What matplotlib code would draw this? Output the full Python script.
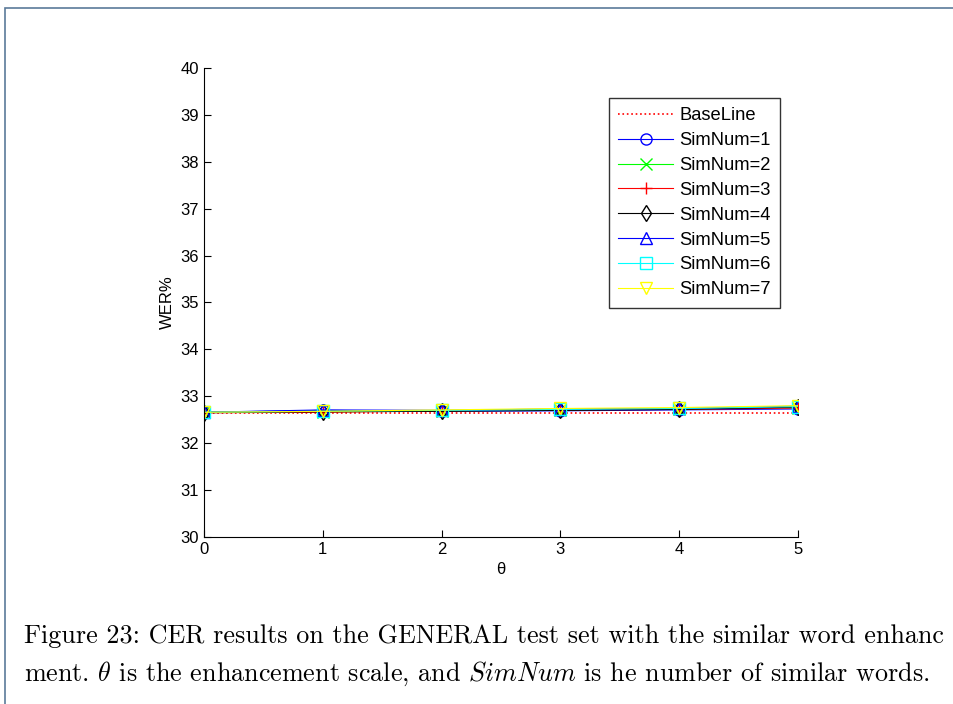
import matplotlib.pyplot as plt
from matplotlib.patches import Rectangle

plt.rcParams['font.family'] = ['Liberation Sans', 'DejaVu Sans']
plt.rcParams['mathtext.fontset'] = 'cm'

# Data
theta = [0, 1, 2, 3, 4, 5]
baseline = [32.65, 32.65, 32.65, 32.65, 32.65, 32.65]
sim1 = [32.66, 32.70, 32.68, 32.69, 32.71, 32.73]
sim2 = [32.66, 32.67, 32.69, 32.71, 32.73, 32.76]
sim3 = [32.65, 32.66, 32.69, 32.71, 32.72, 32.75]
sim4 = [32.65, 32.67, 32.68, 32.70, 32.72, 32.77]
sim5 = [32.66, 32.71, 32.70, 32.73, 32.74, 32.79]
sim6 = [32.66, 32.68, 32.70, 32.72, 32.74, 32.78]
sim7 = [32.66, 32.68, 32.71, 32.74, 32.76, 32.80]

series = [sim1, sim2, sim3, sim4, sim5, sim6, sim7]
labels = ["SimNum=%d" % i for i in range(1, 8)]
colors = ["#0000ff", "#00ff00", "#ff0000", "#000000", "#0000ff", "#00ffff", "#ffff00"]
markers = ["o", "x", "+", "d", "^", "s", "v"]

fig = plt.figure(figsize=(9.54, 7.04), dpi=100)

# page frame (only left and top edges are visible)
fig.patches.append(Rectangle((5 / 954, -1), 3, 2 - 8 / 704,
                             transform=fig.transFigure, fill=False,
                             edgecolor="#5b7a99", linewidth=1.2))

ax = fig.add_axes([204 / 954, 1 - 537 / 704, 594 / 954, 469 / 704])
ax.plot(theta, baseline, ":", color="red", linewidth=1.2, label="BaseLine")
for y, lab, c, m in zip(series, labels, colors, markers):
    ax.plot(theta, y, color=c, marker=m, markersize=8, markerfacecolor="none",
            markeredgecolor=c, linewidth=0.8, label=lab)

ax.set_xlim(0, 5)
ax.set_ylim(30, 40)
ax.set_xticks(theta)
ax.set_yticks(range(30, 41))
ax.spines["top"].set_visible(False)
ax.spines["right"].set_visible(False)
ax.tick_params(direction="in", labelsize=12, length=5)
ax.set_xlabel("θ", fontsize=12)
ax.set_ylabel("WER%", fontsize=12)

leg = ax.legend(loc="upper left", bbox_to_anchor=((609 - 204) / 594, (537 - 98) / 469),
                fontsize=13.2, frameon=True, fancybox=False, edgecolor="black",
                handlelength=3.0, labelspacing=0.43, borderpad=0.5, handletextpad=0.35,
                borderaxespad=0, markerscale=1.0)
leg.get_frame().set_linewidth(1.0)

# caption; the first line runs past the page edge in the source, so it ends at "enhanc"
fig.text(24 / 954, 1 - 636 / 704,
         "Figure 23: CER results on the GENERAL test set with the similar word enhanc",
         fontsize=18.8, family="cmr10", va="center")
fig.text(24 / 954, 1 - 674 / 704,
         r"ment. $\theta$ is the enhancement scale, and $SimNum$ is he number of similar words.",
         fontsize=18.8, family="cmr10", va="center")

fig.savefig("out.png", dpi=100)
